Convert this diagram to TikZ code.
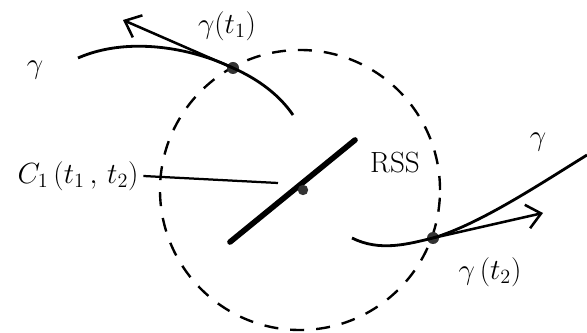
\documentclass[tikz,border=0pt]{standalone}
\usepackage{tikz}
\usepackage{amsmath}
\usetikzlibrary{arrows.meta}
\tikzset{
    dot/.style={circle, fill=black!80, inner sep=0pt, minimum size=0.3cm},
    curve/.style={black, line width=2pt},
    vec/.style={black, line width=1.8pt, -{Straight Barb[length=3.5mm, width=6mm]}},
    lbl/.style={font=\huge},
}

\begin{document}
\begin{tikzpicture}
        \useasboundingbox (0,0) rectangle (14.675,-8.325);
    % The dashed circle and the segment through its centre.
        \draw[black, line width=1.7pt, dash pattern=on 0.35cm off 0.3cm] (7.5,-4.75) circle (3.5);
        \draw[black, line width=4pt, line cap=round] (5.75,-6.05) -- (8.875,-3.5);
        \node[dot, minimum size=0.26cm] (o) at (7.575,-4.75) {};
        \node[dot] (p1) at (5.825,-1.7) {};
        \node[dot] (p2) at (10.825,-5.95) {};
    % The two pieces of the curve.
        \draw[curve] (1.95,-1.45) .. controls (3.2,-0.9) and (4.8,-1.2) .. (p1.center)
            .. controls (6.5,-2.0) and (7.0,-2.4) .. (7.325,-2.875);
        \draw[curve] (8.8,-5.95) .. controls (9.5,-6.3) and (10.2,-6.1) .. (p2.center)
            .. controls (12,-5.6) and (13.5,-4.6) .. (14.675,-3.875);
    % The tangent vectors.
        \coordinate (v1) at (3.075,-0.5);
        \coordinate (v2) at (13.575,-5.325);
        \draw[vec] (p1.center) -- (v1);
        \draw[vec] (p2.center) -- (v2);
    % Below nodes are the labels.
        \node[lbl] (g1) at (0.875,-1.75) {$\gamma$};
        \node[lbl] (g2) at (13.45,-3.55) {$\gamma$};
        \node[lbl] (gt1) at (5.675,-0.65) {$\gamma(t_1)$};
        \node[lbl] (gt2) at (12.25,-6.8) {$\gamma\,(t_2)$};
        \node[lbl] (rss) at (9.875,-4.075) {RSS};
        \node[lbl] (cl) at (1.95,-4.4) {$C_1\,(t_1\,,\,t_2)$};
        \coordinate (ce) at (6.95,-4.575);
        \draw[black, line width=1.6pt] (cl.east) -- (ce);
    \end{tikzpicture}
\end{document}
